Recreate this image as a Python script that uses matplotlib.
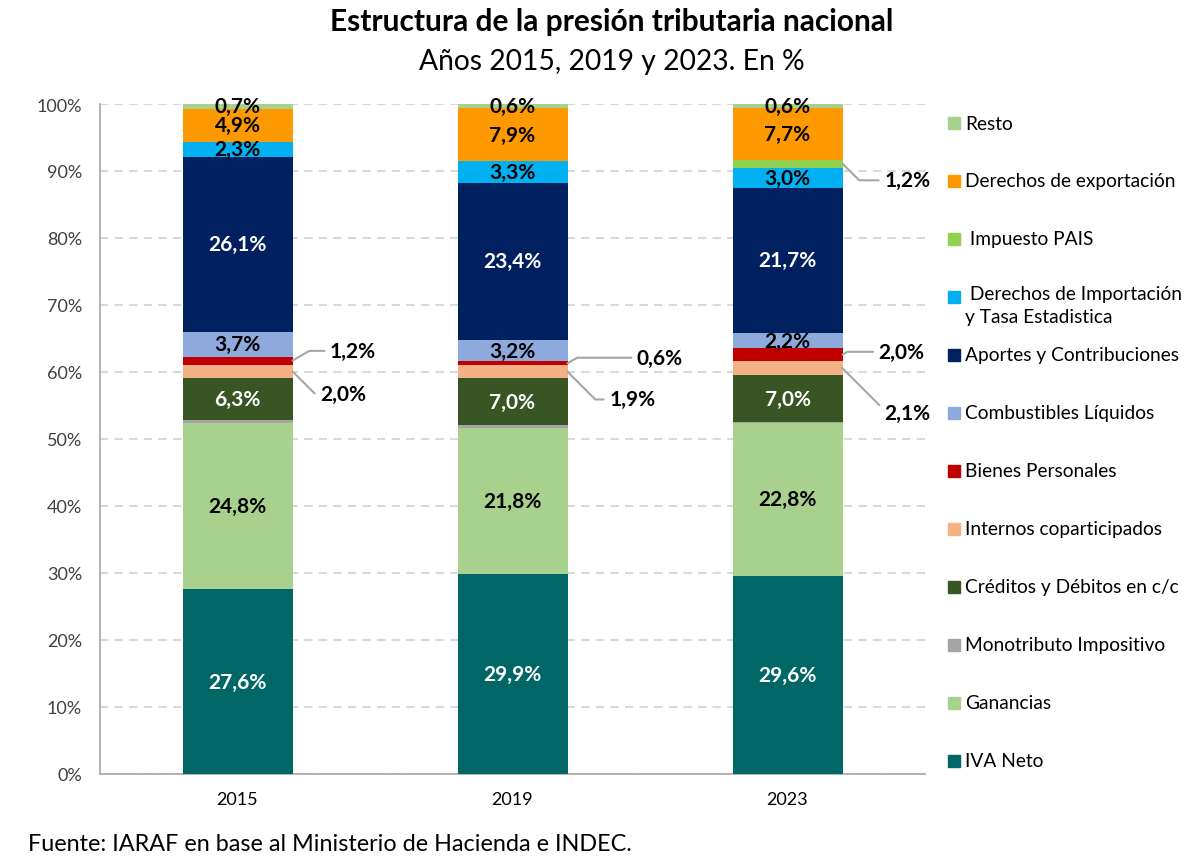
import matplotlib.pyplot as plt
import numpy as np
from matplotlib.patches import Rectangle

plt.rcParams['font.family'] = ['Lato', 'DejaVu Sans']

years = ['2015', '2019', '2023']

# stacking order from bottom to top
categories = ['IVA Neto', 'Ganancias', 'Monotributo Impositivo', 'Créditos y Débitos en c/c',
              'Internos coparticipados', 'Bienes Personales', 'Combustibles Líquidos',
              'Aportes y Contribuciones', ' Derechos de Importación\ny Tasa Estadistica',
              ' Impuesto PAIS', 'Derechos de exportación', 'Resto']

iva = [27.6, 29.9, 29.6]
ganancias = [24.8, 21.8, 22.8]
monotributo = [0.4, 0.4, 0.1]
creditos = [6.3, 7.0, 7.0]
internos = [2.0, 1.9, 2.1]
bienes = [1.2, 0.6, 2.0]
combustibles = [3.7, 3.2, 2.2]
aportes = [26.1, 23.4, 21.7]
der_import = [2.3, 3.3, 3.0]
pais = [0.0, 0.0, 1.2]
der_export = [4.9, 7.9, 7.7]
resto = [0.7, 0.6, 0.6]

series = [iva, ganancias, monotributo, creditos, internos, bienes, combustibles,
          aportes, der_import, pais, der_export, resto]

colors = ['#006666', '#A9D18E', '#A5A5A5', '#375623', '#F4B183', '#C00000', '#8EA9DB',
          '#002060', '#00B0F0', '#92D050', '#FF9900', '#A9D18E']

# label color inside bars (None = no inside label)
label_colors = ['white', 'black', None, 'white', None, None, 'black',
                'white', 'black', None, 'black', 'black']

# callouts: (series index, bar index, offset in points)
callouts = [(5, 0, (27, 7)), (4, 0, (20, -16)),
            (5, 1, (50, 4)), (4, 1, (30, -20)),
            (9, 2, (30, -12)), (5, 2, (26, 2)), (4, 2, (30, -32))]

fig = plt.figure(figsize=(11.98, 8.62), dpi=100)
ax = fig.add_axes([100/1198, 87/862, 825/1198, 670/862])

x = np.arange(len(years))
width = 0.4
bottom = np.zeros(len(years))
for vals, col, lc in zip(series, colors, label_colors):
    vals = np.array(vals)
    ax.bar(x, vals, width, bottom=bottom, color=col, zorder=3)
    if lc is not None:
        for i in range(len(years)):
            if vals[i] > 0:
                ax.text(x[i], bottom[i] + vals[i] / 2, f'{vals[i]:.1f}%'.replace('.', ','),
                        ha='center', va='center', color=lc, fontsize=15,
                        fontweight='bold', zorder=4)
    bottom += vals

# leader-line labels for thin segments
cum = np.cumsum([np.zeros(3)] + [np.array(s) for s in series], axis=0)
for si, bi, off in callouts:
    v = series[si][bi]
    ymid = cum[si][bi] + v / 2
    ax.annotate(f'{v:.1f}%'.replace('.', ','), xy=(x[bi] + width / 2, ymid),
                xytext=off, textcoords='offset points', ha='left', va='center',
                fontsize=15, fontweight='bold', color='black',
                arrowprops=dict(arrowstyle='-', color='#A6A6A6', lw=1.5,
                                shrinkA=2, shrinkB=0,
                                connectionstyle='angle,angleA=180,angleB=%d' % (30 if off[1] > 0 else -45)))

ax.set_xlim(-0.5, 2.5)
ax.set_ylim(0, 100)
ax.set_xticks(x)
ax.set_xticklabels(years, fontsize=13)
ax.set_yticks(np.arange(0, 101, 10))
ax.set_yticklabels([f'{v}%' for v in range(0, 101, 10)], fontsize=13, color='#404040')
ax.tick_params(axis='y', length=0, pad=13)
ax.tick_params(axis='x', length=0, pad=12)
ax.yaxis.grid(True, color='#D9D9D9', linestyle=(0, (4, 3)), linewidth=1.5, zorder=0)
for s in ['top', 'right']:
    ax.spines[s].set_visible(False)
for s in ['left', 'bottom']:
    ax.spines[s].set_color('#A6A6A6')
    ax.spines[s].set_linewidth(1.2)

# legend drawn in figure coordinates, top item first
for k, (name, col) in enumerate(zip(categories[::-1], colors[::-1])):
    yc = 1 - (124 + k * 58) / 862
    fig.add_artist(Rectangle((948/1198, yc - 6/862), 12/1198, 12/862,
                             transform=fig.transFigure, color=col))
    if '\n' in name:
        fig.text(965/1198, yc + 12/862, name, fontsize=13.8, va='top', ha='left',
                 linespacing=1.4)
    else:
        fig.text(965/1198, yc, name, fontsize=13.8, va='center', ha='left')

fig.text(612/1198, 1 - 22/862, 'Estructura de la presión tributaria nacional',
         ha='center', va='center', fontsize=21.5, fontweight='bold')
fig.text(612/1198, 1 - 62/862, 'Años 2015, 2019 y 2023. En %',
         ha='center', va='center', fontsize=20.3)
fig.text(28/1198, 1 - 845/862, 'Fuente: IARAF en base al Ministerio de Hacienda e INDEC.',
         ha='left', va='center', fontsize=16.8)

fig.savefig('out.png', dpi=100)
